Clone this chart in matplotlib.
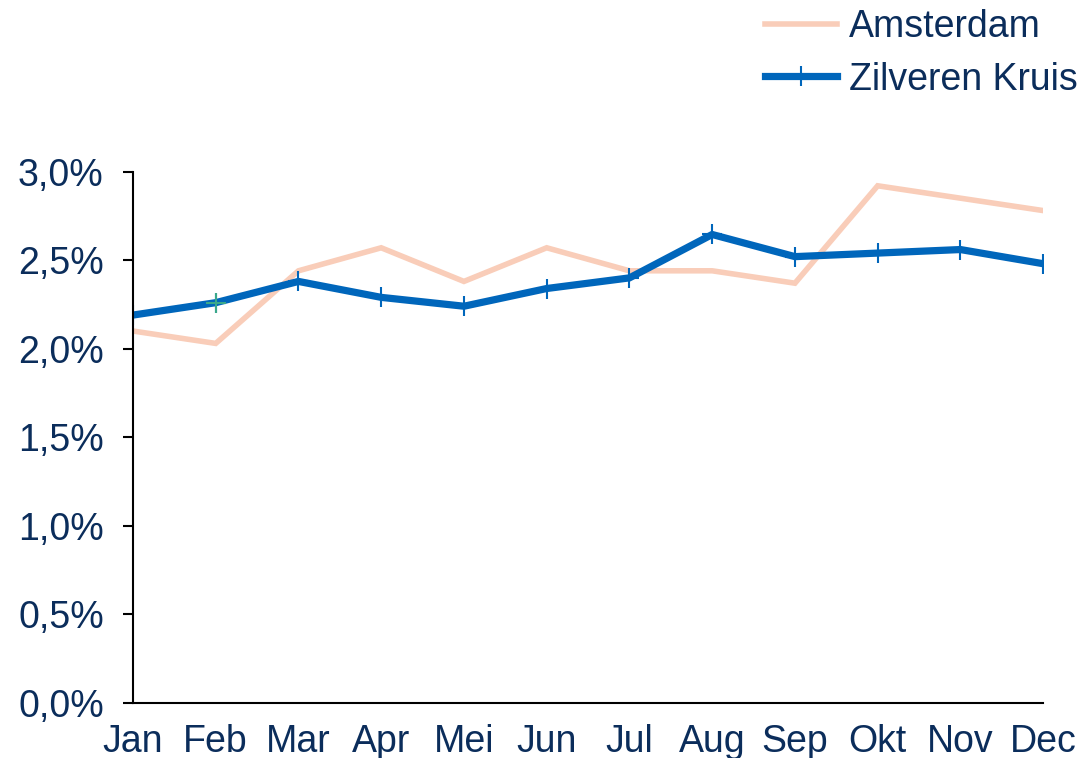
import matplotlib.pyplot as plt
from matplotlib.ticker import FuncFormatter

months = ['Jan', 'Feb', 'Mar', 'Apr', 'Mei', 'Jun', 'Jul', 'Aug', 'Sep', 'Okt', 'Nov', 'Dec']
amsterdam = [2.10, 2.03, 2.44, 2.57, 2.38, 2.57, 2.44, 2.44, 2.37, 2.92, 2.85, 2.78]
zilveren_kruis = [2.19, 2.26, 2.38, 2.29, 2.24, 2.34, 2.40, 2.645, 2.52, 2.54, 2.56, 2.48]
yticks = [0.0, 0.5, 1.0, 1.5, 2.0, 2.5, 3.0]

text_color = '#0b2d5b'
plt.rcParams['font.family'] = ['Liberation Sans', 'DejaVu Sans']

fig = plt.figure(figsize=(10.81, 7.58), dpi=100)
ax = fig.add_axes([0.123, 0.0726, 0.842, 0.701])

x = range(len(months))
ax.plot(x, amsterdam, color='#f9cdb9', lw=4.0, solid_joinstyle='miter', label='Amsterdam')
ax.plot(x, zilveren_kruis, color='#0066bb', lw=5.2, marker='+', markersize=14,
        markeredgewidth=1.5, solid_joinstyle='miter', label='Zilveren Kruis')
# the Feb marker has a teal tint in the original
ax.plot(x[1], zilveren_kruis[1], ls='none', marker='+', markersize=14,
        markeredgewidth=1.5, color='#3aa88a')

ax.set_xlim(0, len(months) - 1)
ax.set_ylim(0, 3.0)
ax.set_xticks(list(x))
ax.set_xticklabels(months)
ax.set_yticks(yticks)
ax.yaxis.set_major_formatter(FuncFormatter(lambda v, p: f'{v:.1f}%'.replace('.', ',')))

for side in ['top', 'right']:
    ax.spines[side].set_visible(False)
for side in ['left', 'bottom']:
    ax.spines[side].set_linewidth(1.5)
    ax.spines[side].set_color('black')
ax.tick_params(axis='x', length=0, labelsize=27, labelcolor=text_color, pad=15)
ax.tick_params(axis='y', length=7, width=1.5, labelsize=27, labelcolor=text_color, pad=14)

fig.legend(loc='upper right', bbox_to_anchor=(1078 / 1081, 1 - 9 / 758), frameon=False,
           fontsize=27, borderpad=0, borderaxespad=0, handlelength=1.92, handletextpad=0.32,
           labelspacing=0.44, labelcolor=text_color)

fig.savefig('out.png', dpi=100)
